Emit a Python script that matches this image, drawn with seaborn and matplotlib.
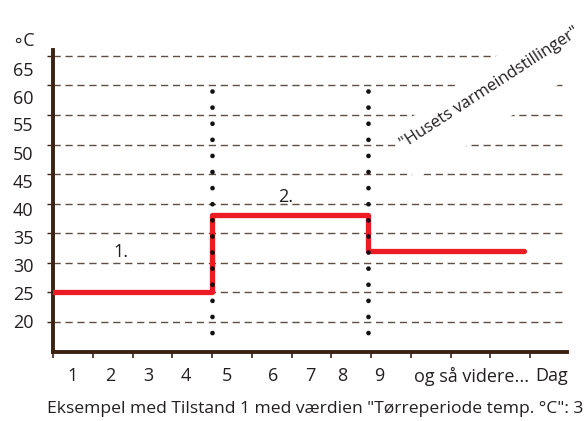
import numpy as np
import matplotlib
matplotlib.use("Agg")
import matplotlib.pyplot as plt
from matplotlib.patches import Polygon
import seaborn as sns

# Temperature profile of the drying programme (day -> °C), step after each change
step_days = [0, 4, 7.93, 11.85]
step_temps = [25, 38, 32, 32]

# Phase boundaries marked with dotted verticals
phase_days = [4, 7.93]
phase_span = (18.15, 59.1)

# Horizontal reference lines (°C)
grid_temps = [20, 25, 30, 35, 40, 45, 50, 55, 60, 65]
temp_labels = ["20", "25", "30", "35", "40", "45", "50", "55", "60", "65"]
temp_label_pos = [20.2, 24.9, 29.6, 34.4, 39.1, 43.9, 48.6, 53.4, 58.1, 62.8]

# Day axis
day_ticks = list(range(13))
day_labels = ["1", "2", "3", "4", "5", "6", "7", "8", "9", "og så videre...", "Dag"]
day_label_pos = [0.50, 1.43, 2.39, 3.35, 4.38, 5.53, 6.47, 7.27, 8.20, 10.54, 12.55]

# Phase numbers
phase_names = ["1.", "2."]
phase_name_x = [1.71, 5.86]
phase_name_y = [31.8, 41.1]

caption = 'Eksempel med Tilstand 1 med værdien "Tørreperiode temp. °C": 3'
house_note = '"Husets varmeindstillinger"'

sns.set_theme(style="white")
plt.rcParams["font.family"] = ["Open Sans", "DejaVu Sans"]
FS = 13

W, H = 585, 421
fig = plt.figure(figsize=(W / 100, H / 100), dpi=100)
fig.patch.set_facecolor("white")
ax = fig.add_axes([53 / W, 1 - 352 / H, (567 - 53) / W, (352 - 50) / H])
ax.set_facecolor("white")
ax.set_xlim(0, 12.93)
ax.set_ylim(14.9, 66.0)

brown = "#3b2314"
grid_col = "#5e4e44"
red = "#ed1c24"
ink = "#231f20"

# dashed reference lines, with a short solid tick left of the spine
ax.hlines(grid_temps, 0, 12.8, colors=grid_col, linewidth=1.0,
          linestyles=[(0, (5.2, 3.4))], zorder=1)
ax.hlines(grid_temps, -0.15, 0, colors=brown, linewidth=1.0, clip_on=False, zorder=1)


def to_data(px, py):
    # pixel position in the 585x421 canvas -> data coordinates of the axes
    return ((px - 53) / 39.75, 20 + (322 - py) / 5.911)


# white band behind the rotated note, interrupting the dashed lines
band = Polygon([to_data(390, 133), to_data(415, 180), to_data(665, 14), to_data(633, -43)],
               closed=True, facecolor="white", edgecolor="none", zorder=6,
               clip_on=False)
ax.add_patch(band)
ax.text(*to_data(490, 88), house_note, rotation=33, rotation_mode="anchor",
        ha="center", va="center", fontsize=12.0, color=ink, zorder=7, clip_on=False)

# dotted phase boundaries
for d in phase_days:
    ax.plot([d, d], [phase_span[1], phase_span[0]], color="#111111", linewidth=3.4,
            linestyle=(0, (0.01, 3.4)), dash_capstyle="round", zorder=5)

# temperature steps
sns.lineplot(x=step_days, y=step_temps, drawstyle="steps-post", color=red,
             linewidth=3.8, ax=ax, zorder=4, legend=False)

for name, x, y in zip(phase_names, phase_name_x, phase_name_y):
    ax.text(x, y, name, ha="center", va="center", fontsize=FS, color=ink)

# axes styling
for side in ["top", "right"]:
    ax.spines[side].set_visible(False)
for side in ["left", "bottom"]:
    ax.spines[side].set_color(brown)
    ax.spines[side].set_linewidth(2.8)

ax.set_xticks(day_ticks)
ax.set_xticklabels([])
ax.tick_params(axis="x", direction="out", length=4, width=1.2, color=brown, bottom=True)
ax.set_yticks(temp_label_pos, labels=temp_labels)
ax.tick_params(axis="y", length=0, pad=14, labelsize=FS, labelcolor=ink, left=True)
ax.set_xlabel("")
ax.set_ylabel("")

for lab, x in zip(day_labels, day_label_pos):
    ax.text(x, -0.08, lab, transform=ax.get_xaxis_transform(), ha="center",
            va="center", fontsize=FS, color=ink)

fig.text(23 / W, 1 - 41 / H, "∘C", ha="center", va="center", fontsize=FS, color=ink)
fig.text(47 / W, 1 - 409 / H, caption, ha="left", va="center", fontsize=12.6, color=ink)

fig.savefig("out.png", dpi=100, facecolor="white")
